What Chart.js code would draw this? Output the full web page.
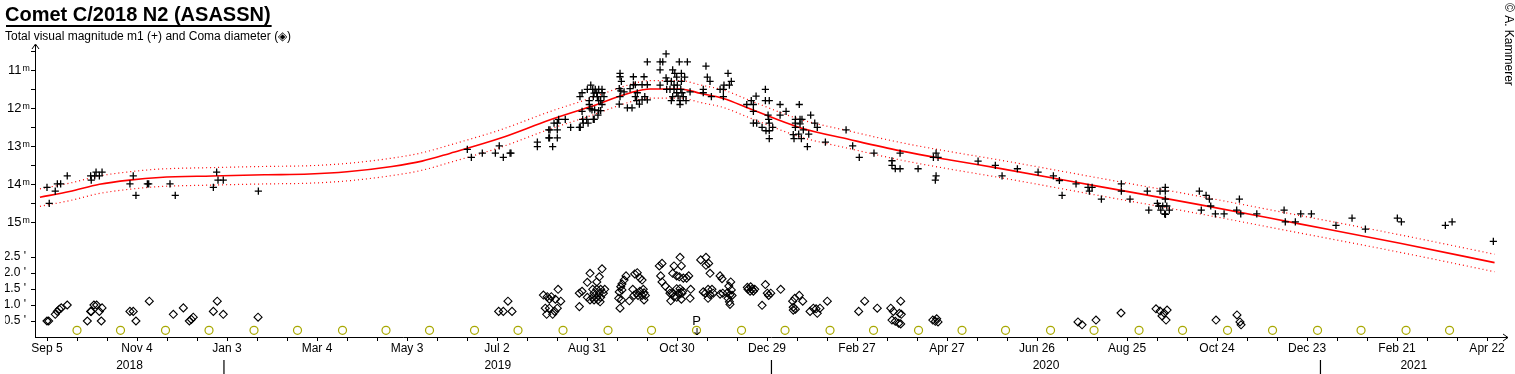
<!DOCTYPE html>
<html>
<head>
<meta charset="utf-8">
<script src="https://cdn.jsdelivr.net/npm/chart.js@4.4.1/dist/chart.umd.min.js"></script>
<style>
  html, body { margin: 0; padding: 0; background: #fff; overflow: hidden; }
  canvas { display: block; }
</style>
</head>
<body>
<canvas id="chart" width="1515" height="374"></canvas>
<script>
// all dates are days counted from 2018 Sep 5
const monthLabels = ["Sep 5", "Nov 4", "Jan 3", "Mar 4", "May 3", "Jul 2", "Aug 31", "Oct 30",
  "Dec 29", "Feb 27", "Apr 27", "Jun 26", "Aug 25", "Oct 24", "Dec 23", "Feb 21", "Apr 22"];
const yearLabels = ["2018", "2019", "2020", "2021"];
const yearStarts = [118, 483, 849];
const magTicks = [10.5, 11, 11.5, 12, 12.5, 13, 13.5, 14, 14.5, 15];
const comaTicks = [0.5, 1, 1.5, 2, 2.5];
const xMin = -8, xMax = 973.3;

const perihelionDay = 433;
const moonDays = [20, 49, 79, 108, 138, 167, 197, 226, 255, 285, 314, 344, 374, 403, 433, 463,
  492, 522, 551, 581, 610, 639, 669, 698, 728, 757, 787, 817, 847, 876, 906, 935];
const moonLevel = 0.21;

// fitted light curve with its band
const fitDays  = [-4.7, 15, 35, 55, 75, 110, 145, 175, 200, 230, 250, 269, 302, 335, 362, 389,
  402, 422, 436, 451, 469, 502, 535, 569, 602, 635, 702, 769, 835, 902, 965];
const fitMag   = [14.33, 14.18, 13.99, 13.88, 13.81, 13.77, 13.74, 13.72, 13.66, 13.52, 13.38, 13.17, 12.78, 12.30, 11.95, 11.58,
  11.48, 11.48, 11.60, 11.73, 12.01, 12.50, 12.81, 13.11, 13.35, 13.57, 14.05, 14.53, 15.03, 15.54, 16.05];
const fitUpper = [14.11, 13.96, 13.77, 13.66, 13.59, 13.55, 13.52, 13.50, 13.44, 13.30, 13.16, 12.95, 12.56, 12.08, 11.73, 11.36,
  11.26, 11.26, 11.38, 11.51, 11.79, 12.28, 12.59, 12.89, 13.13, 13.35, 13.83, 14.31, 14.81, 15.32, 15.83];
const fitLower = [14.57, 14.42, 14.23, 14.12, 14.05, 14.01, 13.98, 13.96, 13.90, 13.76, 13.62, 13.41, 13.02, 12.54, 12.19, 11.82,
  11.72, 11.72, 11.84, 11.97, 12.25, 12.74, 13.05, 13.35, 13.59, 13.81, 14.29, 14.77, 15.27, 15.78, 16.29];

// total visual magnitude m1
const magDays = [
  0, 1.5, 5.5, 6.9, 9.1, 13.5, 29.1, 31.8, 34.9, 32.7,
  36.7, 29.5, 57.5, 55.3, 59.3, 66.9, 67.8, 82, 85.5, 113.1,
  114, 117.5, 110.9, 140.9,
  280.2, 282.9, 290.2, 298.9, 301.5, 304.2, 308.7, 309.3, 326.9, 326.9,
  334.5, 335.3, 334.5, 335, 340.2, 340.2, 337.1, 338, 340.2, 341.1,
  345.5, 349.1, 354.9, 355.5, 357.5, 360.7, 356.7, 357.1, 359.8, 355.3,
  356.7, 360.2, 362.5, 361.5, 361.5, 362, 364.2, 364.8, 363.8, 365.5,
  367.8, 370, 364.7, 366.5, 370, 364.2, 366.9, 371.3, 367.8, 369.1,
  370, 363.3, 365.1, 367.8, 369.1, 367.3,
  382, 382, 382.9, 381.5, 382.5, 384.7, 382, 381.5, 386.9, 390,
  388.7, 390.9, 390.9, 392.2, 393.5, 392.2, 393.1, 394.9, 396.7, 400.2,
  398.5, 396.7, 400.2, 398, 400.2, 408.7, 408.7, 410.5, 412.7, 408.7,
  412.7, 413.5, 416.2, 417.1, 418.5, 421.5, 426.9, 419.8, 422.9, 425.1,
  418, 420.2, 422.9, 413.1, 415.3, 418, 422.5, 419.8, 423.3, 428.7,
  417.1, 420.7, 424.2, 416.2, 422, 426, 422, 437.5, 437.5, 439.3,
  440.2, 442, 442.9, 448.7, 450.9, 451.3, 454.9, 456.2, 454, 450.9,
  478.9, 472.7, 469.5, 470.9, 466.5, 478.9, 481.5, 470.9, 488.7, 501.5,
  492.7, 488.7, 480.7, 481.1, 481.5, 470.9, 473.1, 476.7, 479.3, 481.5,
  483.8, 481.5, 498.9, 502, 509.1, 498.9, 502, 503.3, 511.8, 513.5,
  498.9, 504.2, 501.1, 497.5, 507.8, 498, 502.9, 506.9, 518.9, 532.7,
  537.1, 541.5, 551.3, 563.3, 563.3, 565.5, 568.7, 568.7, 580.7, 592.7,
  590.9, 594, 592.7, 592.2, 620.7, 632.2,
  636.7, 646.9, 660.7, 670.9, 674.9, 676.7, 686, 694, 696.7, 694.9,
  702.9, 716.2, 716.2, 722, 733.5, 734.5, 742, 745.5, 745.5, 740.2,
  741.1, 743.8, 746.5, 742.5, 748.2, 745.1, 745.6, 745.5, 768.2, 772.7,
  774.9, 775.8, 769.5, 778.9, 784.7, 793.1, 795.8, 794.9, 806.5, 824.7,
  825.5, 832.2, 835.8, 842.9, 859.3, 870, 878.9, 900.2, 902.9, 932.2,
  936.7, 964.2
];
const magValues = [
  14.07, 14.49, 14.17, 13.98, 13.98, 13.77, 13.77, 13.77, 13.77, 13.67,
  13.67, 13.88, 13.77, 13.98, 14.28, 13.98, 13.98, 13.98, 14.28, 13.67,
  13.88, 13.88, 14.07, 14.17,
  13.07, 13.28, 13.17, 13.17, 12.98, 13.28, 13.17, 13.17, 12.88, 13.00,
  12.56, 12.56, 12.77, 12.77, 12.56, 12.77, 13.00, 12.38, 12.38, 12.28,
  12.28, 12.49, 12.49, 12.49, 12.38, 12.38, 12.07, 12.28, 12.28, 11.68,
  11.58, 11.49, 11.38, 11.79, 11.89, 12.00, 12.28, 12.28, 11.49, 11.49,
  11.49, 11.49, 11.59, 11.58, 11.58, 11.68, 11.68, 11.68, 11.79, 11.79,
  11.89, 12.03, 12.03, 12.05, 12.05, 12.17,
  11.07, 11.16, 11.28, 11.47, 11.53, 11.56, 11.68, 11.88, 11.98, 11.98,
  11.47, 11.16, 11.37, 11.37, 11.58, 11.68, 11.79, 11.88, 11.77, 11.77,
  11.68, 11.37, 11.37, 11.16, 10.77, 10.98, 10.77, 10.77, 10.56, 11.38,
  11.19, 11.28, 11.28, 10.98, 11.07, 10.77, 10.77, 11.17, 11.07, 11.17,
  11.38, 11.38, 11.28, 11.49, 11.49, 11.49, 11.49, 11.58, 11.58, 11.56,
  11.68, 11.67, 11.68, 11.79, 11.79, 11.79, 11.89, 11.49, 11.58, 10.88,
  11.17, 11.28, 11.68, 11.49, 11.49, 11.38, 11.38, 11.28, 11.07, 11.68,
  11.49, 11.67, 11.79, 11.89, 11.89, 11.79, 11.79, 12.07, 11.89, 11.89,
  12.07, 12.17, 12.17, 12.28, 12.38, 12.38, 12.38, 12.49, 12.58, 12.58,
  12.49, 12.79, 12.28, 12.28, 12.17, 12.38, 12.40, 12.28, 12.38, 12.49,
  12.49, 12.56, 12.67, 12.68, 12.67, 12.79, 12.79, 13.00, 12.88, 12.56,
  12.98, 13.28, 13.17, 13.37, 13.49, 13.58, 13.58, 13.17, 13.58, 13.17,
  13.28, 13.28, 13.77, 13.88, 13.38, 13.49,
  13.77, 13.58, 13.67, 13.77, 13.89, 14.28, 13.98, 14.07, 14.07, 14.17,
  14.38, 13.98, 14.17, 14.38, 14.17, 14.67, 14.17, 14.07, 14.17, 14.49,
  14.56, 14.56, 14.56, 14.67, 14.67, 14.77, 14.78, 14.38, 14.17, 14.28,
  14.38, 14.56, 14.67, 14.77, 14.77, 14.67, 14.77, 14.38, 14.77, 14.67,
  14.98, 14.98, 14.77, 14.77, 15.07, 14.88, 15.17, 14.88, 14.98, 15.07,
  14.98, 15.49
];

// coma diameter in arc minutes
const comaDays = [
  0, 1.1, 5.5, 6.9, 9.5, 13.5, 8.2, 26.9, 29.1, 29.5,
  31.3, 33.1, 34.9, 36.7, 36.2, 55.3, 57.5, 59.3, 68.2, 84.2,
  90.9, 94.9, 96.2, 97.5, 110.9, 113.5, 117.5, 140.7,
  301.1, 304.2, 307.3, 310, 330.9, 333.5, 334.9, 336.2, 338.9, 342.5,
  340.7, 332.2, 334.9, 340.2, 333.1, 337.1, 338.5, 354.9, 354.9, 356.7,
  360.2, 362, 368.2, 370, 366.5, 363.8, 366.5, 369.1, 371.8, 364.7,
  368.2, 370.9, 363.8, 366.5, 369.1, 367.3, 364.7, 368.7, 360.2, 362,
  386, 384.7, 391.8, 393.5, 395.3, 396.7, 383.3, 382.5, 381.5, 383.3,
  381.1, 382.9, 382, 388.2, 390.5, 393.1, 395.3, 397.5, 391.3, 394,
  396.7, 398.9, 398, 398, 408.2, 410, 418, 422, 422.9, 409.1,
  410, 412.2, 414.9, 416.7, 418, 415.8, 415.3, 417.1, 419.8, 421.5,
  424.2, 426.4, 427.8, 419.8, 422, 423.8, 421.1, 423.3, 419.8, 422.9,
  429.1, 428.7, 435.8, 439.3, 441.1, 442, 439.3, 437.5, 440.7, 443.3,
  442, 440.7, 444.2, 438.9, 448.7, 450, 455.8, 454.5, 456.2, 453.5,
  455.3, 456.7, 454, 454.9, 455.3, 450.5, 448.7,
  467.3, 470, 471.8, 468.7, 470.9, 466.9, 469.1, 478.9, 476.7, 481.1,
  480.2, 482.5, 489.1, 497.1, 498.5, 501.5, 503.8, 497.5, 498.9, 497.5,
  508.7, 510.9, 513.5, 515.3, 512.7, 520.2, 541.1, 545.1, 553.5, 562.5,
  564.2, 568.2, 563.3, 565.5, 567.8, 569.1, 569.1, 569.5, 590.5, 592.2,
  594, 593.1,
  687.3, 690, 699.3, 716, 739.3, 742, 744.7, 746.7, 743.3, 746,
  779.3, 793.3, 795.3, 796
];
const comaValues = [
  0.50, 0.50, 0.71, 0.80, 0.91, 1.00, 0.87, 0.50, 0.80, 0.80,
  1.00, 1.00, 0.80, 0.91, 0.50, 0.80, 0.80, 0.50, 1.12, 0.71,
  0.91, 0.50, 0.55, 0.62, 0.80, 1.12, 0.71, 0.62,
  0.80, 0.80, 1.12, 0.80, 1.31, 1.26, 1.18, 1.26, 1.18, 1.12,
  1.49, 0.90, 0.90, 0.90, 0.71, 0.71, 0.80, 0.95, 1.37, 1.43,
  1.71, 1.99, 1.88, 2.13, 1.72, 1.49, 1.49, 1.49, 1.49, 1.37,
  1.37, 1.37, 1.24, 1.24, 1.24, 1.16, 1.16, 1.10, 1.24, 1.16,
  1.91, 1.78, 1.97, 2.01, 1.84, 1.78, 1.66, 1.57, 1.41, 1.47,
  1.21, 1.16, 0.90, 1.13, 1.49, 1.37, 1.43, 1.49, 1.30, 1.30,
  1.30, 1.30, 1.38, 1.16, 2.22, 2.30, 2.22, 2.49, 2.22, 1.91,
  1.72, 1.59, 1.47, 1.37, 1.26, 1.13, 1.37, 1.99, 1.91, 1.88,
  1.84, 1.84, 1.91, 1.51, 1.51, 1.43, 1.37, 1.37, 1.24, 1.18,
  1.49, 1.21, 2.41, 2.49, 2.30, 1.99, 2.24, 1.41, 1.49, 1.49,
  1.32, 1.21, 1.37, 1.37, 1.91, 1.82, 1.72, 1.59, 1.47, 1.38,
  1.32, 1.30, 1.21, 1.10, 1.02, 1.37, 1.34,
  1.49, 1.49, 1.49, 1.43, 1.43, 1.55, 1.57, 1.64, 0.99, 1.30,
  1.37, 1.37, 1.49, 1.12, 1.21, 1.30, 1.12, 0.93, 0.87, 0.84,
  0.80, 0.90, 0.74, 0.90, 0.88, 1.12, 0.80, 1.12, 0.90, 0.90,
  0.80, 0.74, 0.53, 0.49, 0.43, 0.41, 1.12, 0.71, 0.53, 0.49,
  0.47, 0.57,
  0.47, 0.38, 0.53, 0.75, 0.88, 0.81, 0.75, 0.84, 0.66, 0.53,
  0.53, 0.69, 0.47, 0.38
];

const FONT = '"Liberation Sans", Arial, sans-serif';

// year captions under the month labels, centred on each year's span, with a bar at each new year
const yearBounds = [xMin, ...yearStarts, xMax];
const yearMarks = yearLabels.map((t, i) => ({ value: (yearBounds[i] + yearBounds[i + 1]) / 2, text: t }))
  .concat(yearStarts.map((d) => ({ value: d, text: "|" })))
  .sort((a, b) => a.value - b.value);

function pts(xs, ys) {
  return xs.map((x, i) => ({ x, y: ys[i] }));
}

const decor = {
  id: "decor",
  afterDraw(chart) {
    const { ctx, chartArea: a, scales } = chart;
    ctx.save();
    ctx.fillStyle = "#000";
    ctx.strokeStyle = "#000";
    ctx.lineWidth = 1;

    // underline of the title
    ctx.font = "bold 20px " + FONT;
    const w = ctx.measureText(chart.options.plugins.title.text).width;
    ctx.fillRect(6, 25, w, 2);

    // axis arrows
    ctx.beginPath();
    ctx.moveTo(a.right - 4, a.bottom - 3);
    ctx.lineTo(a.right + 1, a.bottom + 0.5);
    ctx.lineTo(a.right - 4, a.bottom + 4);
    ctx.moveTo(a.left - 3, a.top + 4);
    ctx.lineTo(a.left + 0.5, a.top - 1);
    ctx.lineTo(a.left + 4, a.top + 4);
    ctx.stroke();

    // perihelion
    const px = scales.x.getPixelForValue(perihelionDay);
    const py = scales.yc.getPixelForValue(0.5);
    ctx.font = "13px " + FONT;
    ctx.textAlign = "center";
    ctx.textBaseline = "middle";
    ctx.fillText("P", px, py);
    ctx.beginPath();
    ctx.moveTo(px + 0.5, py + 7);
    ctx.lineTo(px + 0.5, a.bottom - 2);
    ctx.moveTo(px - 2, a.bottom - 5);
    ctx.lineTo(px + 0.5, a.bottom - 2);
    ctx.lineTo(px + 3, a.bottom - 5);
    ctx.stroke();

    // copyright, written downwards along the right edge
    ctx.translate(1505, 3);
    ctx.rotate(Math.PI / 2);
    ctx.font = "12px " + FONT;
    ctx.textAlign = "left";
    ctx.textBaseline = "alphabetic";
    ctx.fillText("\u00A9 A. Kammerer", 0, 0);
    ctx.restore();
  }
};

new Chart(document.getElementById("chart"), {
  type: "scatter",
  data: {
    datasets: [
      {
        label: "m1",
        data: pts(magDays, magValues),
        yAxisID: "y",
        pointStyle: "cross",
        pointRadius: 3.6,
        borderColor: "#000",
        borderWidth: 1.3
      },
      {
        label: "Coma",
        data: pts(comaDays, comaValues),
        yAxisID: "yc",
        pointStyle: "rectRot",
        pointRadius: 4,
        borderColor: "#000",
        backgroundColor: "rgba(0,0,0,0)",
        borderWidth: 1.1
      },
      {
        label: "Full moon",
        data: moonDays.map((d) => ({ x: d, y: moonLevel })),
        yAxisID: "yc",
        pointStyle: "circle",
        pointRadius: 4,
        borderColor: "#a8a800",
        backgroundColor: "rgba(0,0,0,0)",
        borderWidth: 1.2
      },
      {
        label: "fit",
        data: pts(fitDays, fitMag),
        yAxisID: "y",
        showLine: true,
        cubicInterpolationMode: "monotone",
        borderColor: "#ff0000",
        borderWidth: 1.6,
        pointRadius: 0
      },
      {
        label: "upper",
        data: pts(fitDays, fitUpper),
        yAxisID: "y",
        showLine: true,
        cubicInterpolationMode: "monotone",
        borderColor: "#ff0000",
        borderWidth: 1.2,
        borderDash: [1, 3],
        pointRadius: 0
      },
      {
        label: "lower",
        data: pts(fitDays, fitLower),
        yAxisID: "y",
        showLine: true,
        cubicInterpolationMode: "monotone",
        borderColor: "#ff0000",
        borderWidth: 1.2,
        borderDash: [1, 3],
        pointRadius: 0
      }
    ]
  },
  options: {
    responsive: false,
    animation: false,
    events: [],
    clip: false,
    layout: { padding: { left: 5, right: 8, top: 0, bottom: 0 } },
    plugins: {
      legend: { display: false },
      tooltip: { enabled: false },
      title: {
        display: true,
        text: "Comet C/2018 N2 (ASASSN)",
        align: "start",
        color: "#000",
        font: { family: FONT, size: 20, weight: "bold" },
        padding: { top: 3, bottom: 0 }
      },
      subtitle: {
        display: true,
        text: "Total visual magnitude m1 (+) and Coma diameter (\u25C8)",
        align: "start",
        color: "#000",
        font: { family: FONT, size: 12 },
        padding: { top: 2, bottom: 1.6 }
      }
    },
    scales: {
      x: {
        type: "linear",
        position: "bottom",
        weight: 1,
        min: xMin,
        max: xMax,
        border: { color: "#000" },
        grid: { drawOnChartArea: false, tickLength: 4, color: "#000", tickColor: "#000" },
        ticks: {
          autoSkip: false,
          maxRotation: 0,
          padding: 0,
          color: "#000",
          font: { family: FONT, size: 12 },
          callback: (v) => (v % 60 === 0 ? monthLabels[v / 60] : "")
        },
        afterBuildTicks: (s) => {
          const t = [];
          for (let d = 0; d <= 960; d += 20) t.push({ value: d });
          s.ticks = t;
        },
        afterFit: (s) => { s.height = 20; s.paddingLeft = 0; s.paddingRight = 0; }
      },
      x2: {
        type: "linear",
        position: "bottom",
        weight: 2,
        min: xMin,
        max: xMax,
        border: { display: false },
        grid: { display: false, drawTicks: false },
        ticks: {
          autoSkip: false,
          maxRotation: 0,
          padding: 1,
          color: "#000",
          font: (c) => ({ family: FONT, size: c.tick && c.tick.label === "|" ? 15 : 12 }),
          callback: (v, i) => yearMarks[i].text
        },
        afterBuildTicks: (s) => { s.ticks = yearMarks.map((m) => ({ value: m.value })); },
        afterFit: (s) => { s.height = 17; s.paddingLeft = 0; s.paddingRight = 0; }
      },
      y: {
        type: "linear",
        position: "left",
        stack: "left",
        stackWeight: 204,
        weight: 2,
        reverse: true,
        min: 10.324,
        max: 15.692,
        border: { color: "#000" },
        grid: { drawOnChartArea: false, tickLength: 4, color: "#000", tickColor: "#000" },
        ticks: {
          autoSkip: false,
          padding: 1,
          color: "#000",
          font: { family: FONT, size: 13 },
          callback: (v) => (Number.isInteger(v) ? v + "\u200A\u1D50" : "")
        },
        afterBuildTicks: (s) => { s.ticks = magTicks.map((v) => ({ value: v })); },
        afterFit: (s) => { s.width = 30; s.paddingTop = 0; s.paddingBottom = 0; }
      },
      yc: {
        type: "linear",
        position: "left",
        stack: "left",
        stackWeight: 88,
        weight: 1,
        min: 0,
        max: 2.75,
        border: { color: "#000" },
        grid: { drawOnChartArea: false, tickLength: 4, color: "#000", tickColor: "#000" },
        ticks: {
          autoSkip: false,
          padding: 5,
          color: "#000",
          font: { family: FONT, size: 12 },
          callback: (v) => v.toFixed(1) + " '"
        },
        afterBuildTicks: (s) => { s.ticks = comaTicks.map((v) => ({ value: v })); },
        afterFit: (s) => { s.width = 30; s.paddingTop = 0; s.paddingBottom = 0; }
      }
    }
  },
  plugins: [decor]
});
</script>
</body>
</html>
